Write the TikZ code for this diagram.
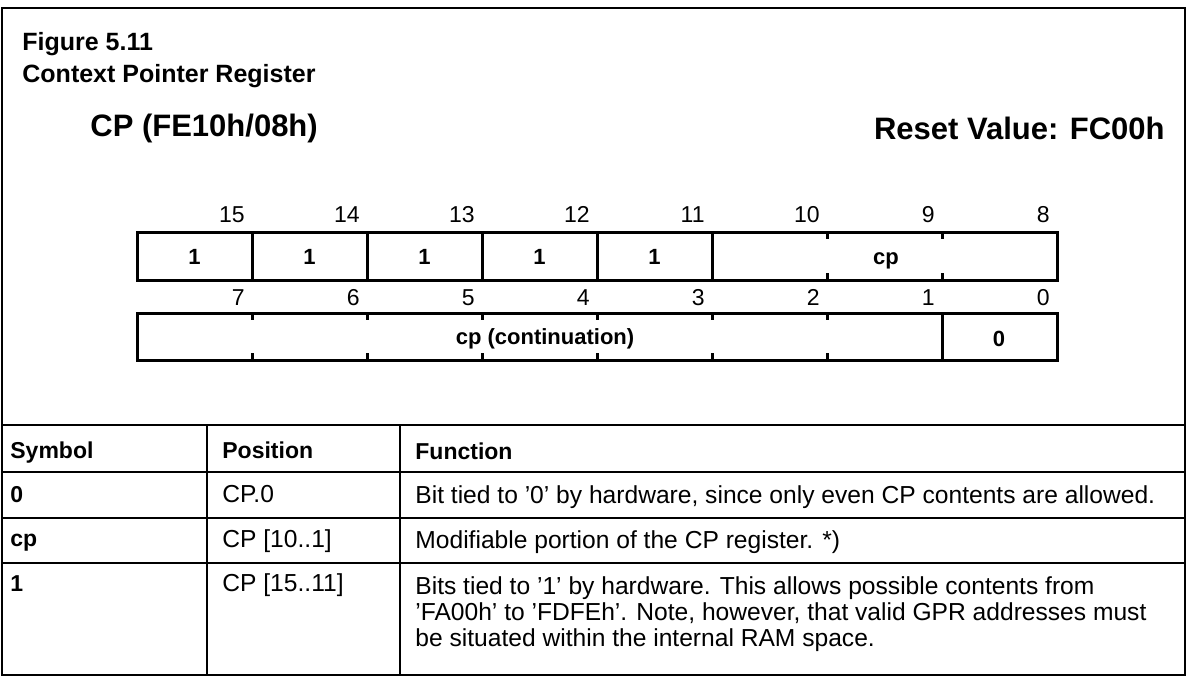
\documentclass[tikz,border=0pt]{standalone}
\usepackage{fontspec}
\setmainfont{Liberation Sans}
\usetikzlibrary{positioning}

\begin{document}
\begin{tikzpicture}[x=0.5pt,y=-0.5pt,
    framerule/.style={line width=0.9pt},
    tabrule/.style={line width=0.7pt},
    regrule/.style={line width=1.5pt},
    heading/.style={inner sep=0pt,font=\fontsize{12.5}{15}\selectfont\bfseries},
    subhead/.style={inner sep=0pt,font=\fontsize{15.5}{18}\selectfont\bfseries},
    bitnum/.style={inner sep=0pt,anchor=base east,font=\fontsize{11.5}{13}\selectfont},
    bitval/.style={inner sep=0pt,anchor=base,font=\fontsize{11}{13}\selectfont\bfseries},
    colhead/.style={inner sep=0pt,anchor=base west,font=\fontsize{11.5}{13}\selectfont\bfseries},
    cellsym/.style={inner sep=0pt,anchor=base west,font=\fontsize{11.5}{13}\selectfont\bfseries},
    celltext/.style={inner sep=0pt,anchor=base west,font=\fontsize{12.3}{13}\selectfont}]
    \useasboundingbox (0,0) rectangle (1187,677);

    % Keret
    \draw[framerule] (2,675) -- (2,8) -- (1185,8) -- (1185,675) -- cycle;

    % Cimek
    \node[heading, anchor=west] (fig)   at (22,44)   {Figure 5.11};
    \node[heading, anchor=west] (title) at (22,76)   {Context Pointer Register};
    \node[subhead, anchor=west] (addr)  at (90,128)  {CP (FE10h/08h)};
    \node[subhead, anchor=east] (reset) at (1165,128) {Reset Value: FC00h};

    % Felso bajt: 15..8
    \foreach \b [count=\i from 1] in {15,14,13,12,11,10,9,8}
        \node[bitnum] (hi\b) at ({137+115*\i-7},222) {\b};
    \draw[regrule] (137,232) rectangle (1057,280);
    \foreach \i in {1,...,5}
        \draw[regrule] ({137+115*\i},232) -- ({137+115*\i},280);
    \foreach \i in {6,7} {
        \draw[regrule] ({137+115*\i},232) -- ({137+115*\i},239);
        \draw[regrule] ({137+115*\i},273) -- ({137+115*\i},280);
    }
    \foreach \b [count=\i from 0] in {15,14,13,12,11}
        \node[bitval] (one\b) at ({137+115*\i+57.5},264) {1};
    \node[bitval] (cphi) at (886,264) {cp};

    % Also bajt: 7..0
    \foreach \b [count=\i from 1] in {7,6,5,4,3,2,1,0}
        \node[bitnum] (lo\b) at ({137+115*\i-7},305) {\b};
    \draw[regrule] (137,313) rectangle (1057,360);
    \foreach \i in {1,...,6} {
        \draw[regrule] ({137+115*\i},313) -- ({137+115*\i},320);
        \draw[regrule] ({137+115*\i},353) -- ({137+115*\i},360);
    }
    \draw[regrule] (942,313) -- (942,360);
    \node[bitval] (cplo)  at (545,344)  {cp (continuation)};
    \node[bitval] (zero)  at (999,346)  {0};

    % Tablazat
    \draw[tabrule] (2,425) -- (1185,425);
    \foreach \y in {472,518,563}
        \draw[tabrule] (2,\y) -- (1185,\y);
    \draw[tabrule] (207,425) -- (207,675);
    \draw[tabrule] (400,425) -- (400,675);

    \node[colhead] (hsym) at (10,458)  {Symbol};
    \node[colhead] (hpos) at (222,458) {Position};
    \node[colhead] (hfun) at (415,459) {Function};

    \node[cellsym]  (s0)  at (10,502)  {0};
    \node[celltext] (p0)  at (222,502) {CP.0};
    \node[celltext] (f0)  at (415,503) {Bit tied to '0' by hardware, since only even CP contents are allowed.};

    \node[cellsym]  (scp) at (10,546)  {cp};
    \node[celltext] (pcp) at (222,547) {CP [10..1]};
    \node[celltext] (fcp) at (415,548) {Modifiable portion of the CP register. *)};

    \node[cellsym]  (s1)  at (10,591)  {1};
    \node[celltext] (p1)  at (222,591) {CP [15..11]};
    \node[celltext] (f1a) at (415,594) {Bits tied to '1' by hardware. This allows possible contents from};
    \node[celltext] (f1b) at (415,620) {'FA00h' to 'FDFEh'. Note, however, that valid GPR addresses must};
    \node[celltext] (f1c) at (415,646) {be situated within the internal RAM space.};
\end{tikzpicture}
\end{document}
